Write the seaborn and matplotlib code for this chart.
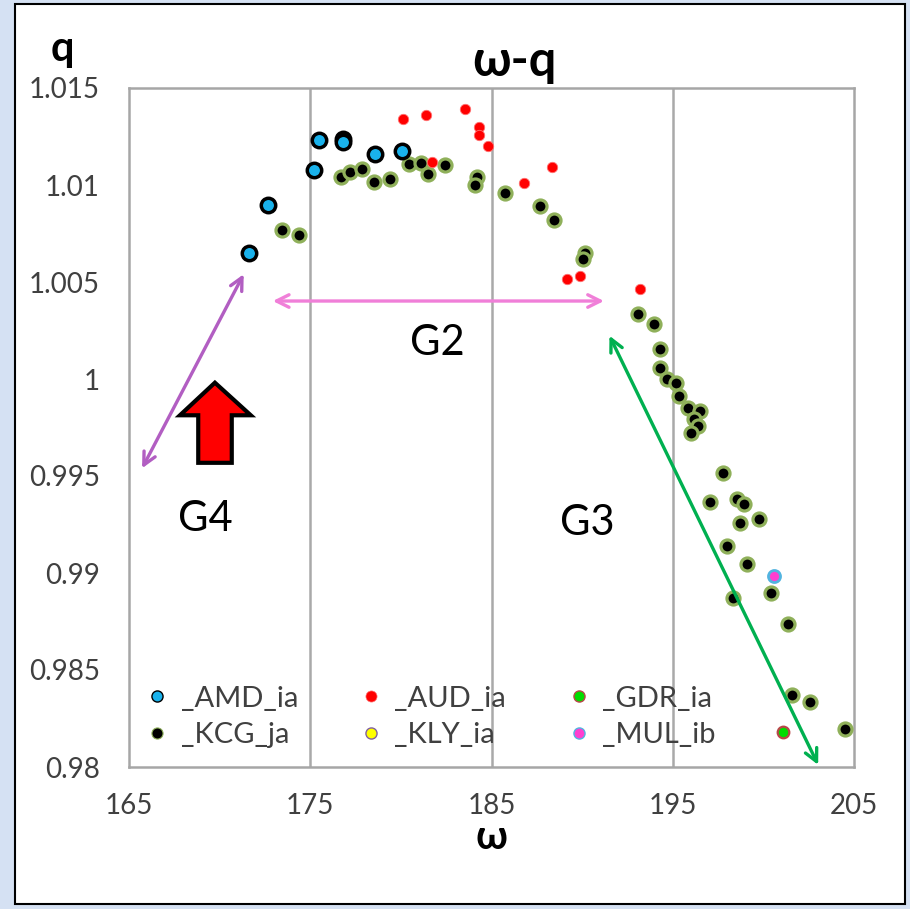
import matplotlib
matplotlib.use("Agg")
import matplotlib.pyplot as plt
import seaborn as sns
import pandas as pd
from matplotlib.patches import Rectangle, Polygon
from matplotlib.lines import Line2D

# ---------------- data ----------------
amd_w = [171.6, 172.65, 175.21, 175.48, 176.79, 176.79, 178.57, 180.05]
amd_q = [1.00648, 1.00898, 1.01076, 1.01232, 1.01236, 1.01223, 1.01160, 1.01177]

aud_w = [180.14, 181.37, 183.52, 184.29, 184.29, 184.81, 181.72, 188.34, 186.79, 189.15, 189.90, 193.19]
aud_q = [1.01342, 1.01361, 1.01392, 1.01301, 1.01258, 1.01201, 1.01120, 1.01091, 1.01009, 1.00514, 1.00531, 1.00464]

gdr_w = [201.07]
gdr_q = [0.98182]

kly_w = []
kly_q = []

mul_w = [200.59]
mul_q = [0.98984]

kcg_w = [173.42, 174.38, 176.68, 177.19, 177.84, 178.52, 179.38, 180.43, 181.09, 181.48,
         182.42, 184.18, 184.10, 185.74, 187.68, 188.45, 190.16, 190.07, 193.10, 193.97,
         194.30, 194.28, 194.66, 195.18, 195.36, 195.86, 196.50, 196.19, 196.41, 195.99,
         197.76, 197.06, 198.56, 198.93, 198.73, 199.76, 197.98, 199.10, 200.40, 198.31,
         201.38, 201.56, 202.57, 204.50]
kcg_q = [1.00766, 1.00742, 1.01040, 1.01067, 1.01084, 1.01017, 1.01030, 1.01108, 1.01115, 1.01057,
         1.01102, 1.01043, 1.01000, 1.00957, 1.00892, 1.00818, 1.00651, 1.00617, 1.00333, 1.00282,
         1.00155, 1.00055, 1.00000, 0.99981, 0.99912, 0.99849, 0.99837, 0.99794, 0.99759, 0.99720,
         0.99514, 0.99364, 0.99381, 0.99354, 0.99256, 0.99278, 0.99139, 0.99046, 0.98895, 0.98872,
         0.98735, 0.98371, 0.98336, 0.98194]

x_ticks = [165, 175, 185, 195, 205]
y_ticks = [0.98, 0.985, 0.99, 0.995, 1.0, 1.005, 1.01, 1.015]
y_tick_labels = ["0.98", "0.985", "0.99", "0.995", "1", "1.005", "1.01", "1.015"]

series_names = ["_AMD_ia", "_AUD_ia", "_GDR_ia", "_KCG_ja", "_KLY_ia", "_MUL_ib"]

# ---------------- style ----------------
sns.set_style("white")
plt.rcParams["font.family"] = ["Lato", "DejaVu Sans"]

W, H = 910, 909
fig = plt.figure(figsize=(W / 100, H / 100), dpi=100)
fig.patch.set_facecolor("#d5e1f3")
fig.patches.append(Rectangle((15 / W, 1 - 904 / H), (905 - 15) / W, (904 - 4) / H,
                             transform=fig.transFigure, facecolor="white",
                             edgecolor="black", linewidth=1.5, zorder=-10))

ax = fig.add_axes([129 / W, 1 - 767 / H, 725 / W, 679 / H])
ax.set_facecolor("white")
ax.set_zorder(1)

styles = {
    "_KCG_ja": dict(color="black", edgecolor="#8fb05a", s=88, linewidth=2.3),
    "_AUD_ia": dict(color="#ff0000", edgecolor="#ff7070", s=56, linewidth=0.6),
    "_AMD_ia": dict(color="#19b2ec", edgecolor="black", s=108, linewidth=2.5),
    "_GDR_ia": dict(color="#00dd00", edgecolor="#b84848", s=70, linewidth=1.6),
    "_KLY_ia": dict(color="#ffff00", edgecolor="#8060a0", s=70, linewidth=1.2),
    "_MUL_ib": dict(color="#ff3fd0", edgecolor="#52b4e0", s=75, linewidth=2.0),
}
data = {
    "_KCG_ja": (kcg_w, kcg_q),
    "_AUD_ia": (aud_w, aud_q),
    "_AMD_ia": (amd_w, amd_q),
    "_GDR_ia": (gdr_w, gdr_q),
    "_KLY_ia": (kly_w, kly_q),
    "_MUL_ib": (mul_w, mul_q),
}
for i, name in enumerate(["_KCG_ja", "_AUD_ia", "_AMD_ia", "_GDR_ia", "_KLY_ia", "_MUL_ib"]):
    w, q = data[name]
    if len(w) == 0:
        continue
    df = pd.DataFrame({"w": w, "q": q})
    sns.scatterplot(data=df, x="w", y="q", ax=ax, legend=False, zorder=3 + i, **styles[name])

ax.set_xlim(165, 205)
ax.set_ylim(0.98, 1.015)
ax.set_xticks(x_ticks)
ax.set_xticklabels([str(t) for t in x_ticks])
ax.set_yticks(y_ticks)
ax.set_yticklabels(y_tick_labels)
ax.grid(False)
for t in x_ticks[1:-1]:
    ax.axvline(t, color="#a9a9a9", linewidth=1.8, zorder=1)
for sp in ax.spines.values():
    sp.set_color("#a6a6a6")
    sp.set_linewidth(1.8)
ax.tick_params(axis="both", direction="out", color="#a6a6a6", width=1.5,
               labelsize=20, labelcolor="#404040")
ax.tick_params(axis="y", length=9, pad=12)
ax.tick_params(axis="x", length=7, pad=12)
ax.set_xlabel("ω", fontsize=29, fontweight="bold", labelpad=0, color="black")
ax.set_ylabel("")
fig.text(62 / W, 1 - 49 / H, "q", fontsize=30, fontweight="bold", ha="center", va="center", color="black")
fig.text(514 / W, 1 - 62 / H, "ω-q", fontsize=35, fontweight="bold", ha="center", va="center", color="black")

# legend (column-major ordering to get rows AMD/AUD/GDR and KCG/KLY/MUL)
def h(name, ms, mew):
    st = styles[name]
    return Line2D([], [], linestyle="", marker="o", markersize=ms,
                  markerfacecolor=st["color"], markeredgecolor=st["edgecolor"], markeredgewidth=mew)

order = ["_AMD_ia", "_KCG_ja", "_AUD_ia", "_KLY_ia", "_GDR_ia", "_MUL_ib"]
lw_map = {"_AMD_ia": 1.0, "_KCG_ja": 0.8, "_AUD_ia": 0.5, "_KLY_ia": 1.0, "_GDR_ia": 1.0, "_MUL_ib": 1.0}
handles = [h(n, 8, lw_map[n]) for n in order]
leg = ax.legend(handles, order, ncol=3, loc="upper left", bbox_to_anchor=(-0.005, 0.15),
                frameon=False, fontsize=21, handlelength=0.8, handletextpad=0.4,
                columnspacing=2.1, labelspacing=0.35, borderaxespad=0.3)
for t in leg.get_texts():
    t.set_color("#404040")

# annotations
ax.annotate("", xy=(191.36, 1.00402), xytext=(172.78, 1.00402),
            arrowprops=dict(arrowstyle="<->,head_length=0.9,head_width=0.45", color="#f07fd8", lw=2.4),
            zorder=10)
ax.annotate("", xy=(171.40, 1.00553), xytext=(165.65, 0.99527),
            arrowprops=dict(arrowstyle="<->,head_length=0.9,head_width=0.45", color="#b25ec2", lw=2.4),
            zorder=10)
ax.annotate("", xy=(203.09, 0.97998), xytext=(191.44, 1.00236),
            arrowprops=dict(arrowstyle="<->,head_length=0.9,head_width=0.45", color="#00b050", lw=2.4),
            zorder=10, annotation_clip=False)
ax.text(182.02, 1.00188, "G2", fontsize=30, ha="center", va="center", color="black", zorder=11)
ax.text(190.26, 0.99258, "G3", fontsize=30, ha="center", va="center", color="black", zorder=11)
ax.text(169.19, 0.99278, "G4", fontsize=30, ha="center", va="center", color="black", zorder=11)

up_arrow = Polygon([(168.82, 0.99568), (168.82, 0.99813), (167.81, 0.99813), (169.74, 0.99981),
                    (171.72, 0.99813), (170.67, 0.99813), (170.67, 0.99568)], closed=True,
                   facecolor="#ff0000", edgecolor="black", linewidth=3, zorder=10, joinstyle="miter")
ax.add_patch(up_arrow)

fig.savefig("out.png", dpi=100, facecolor=fig.get_facecolor())
